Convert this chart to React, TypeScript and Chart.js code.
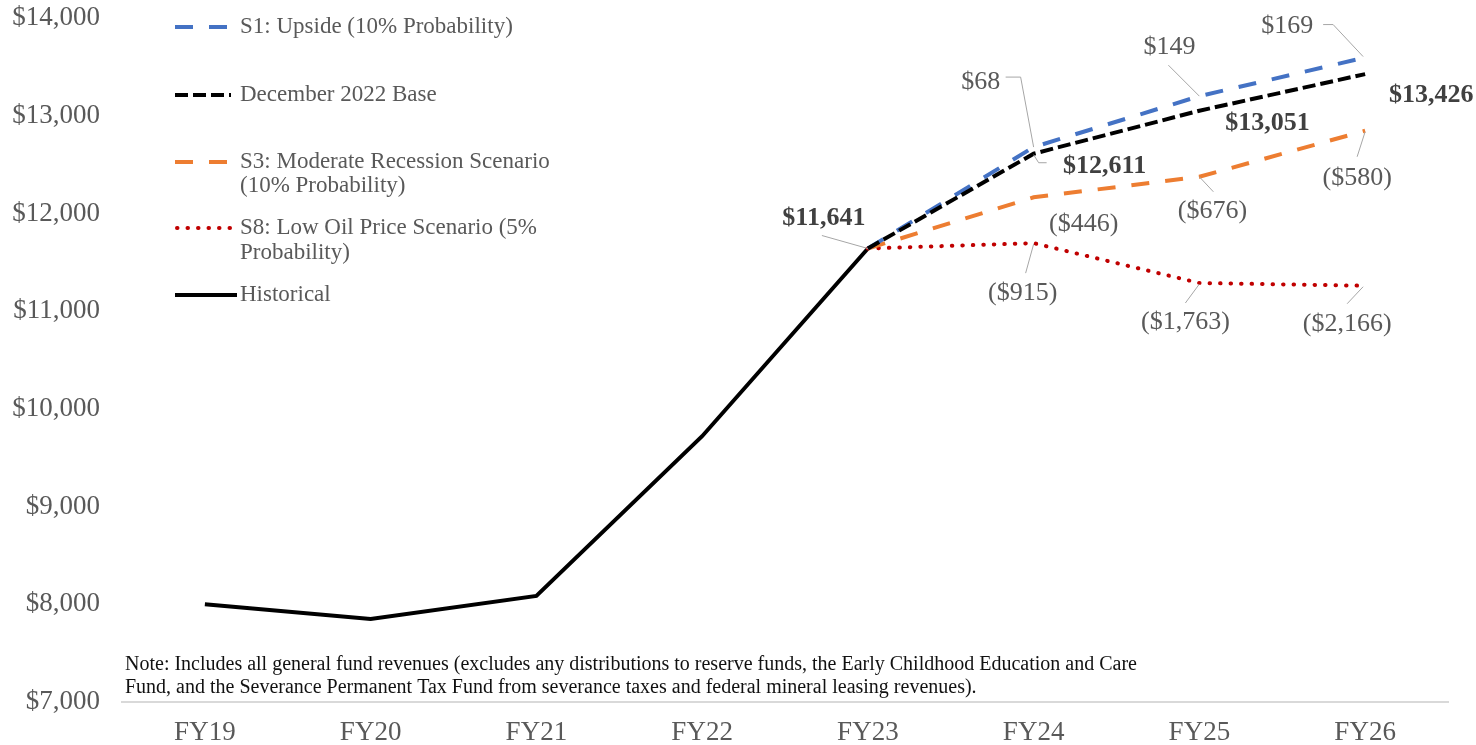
import React, { useEffect, useRef } from "react";
import { Chart, registerables } from "chart.js";

Chart.register(...registerables);

const FONT = "'Liberation Serif', 'Times New Roman', Times, serif";

// ---------- data ----------
const categories = ["FY19", "FY20", "FY21", "FY22", "FY23", "FY24", "FY25", "FY26"];
const historical = [8000, 7850, 8085, 9720, 11641, null, null, null];
const base = [null, null, null, null, 11641, 12611, 13051, 13426];
const upside = [null, null, null, null, 11641, 12679, 13200, 13595];
const recession = [null, null, null, null, 11641, 12165, 12375, 12846];
const lowOil = [null, null, null, null, 11641, 11696, 11288, 11260];

const yMin = 7000;
const yMax = 14000;
const yStep = 1000;

const baseLabels = ["$11,641", "$12,611", "$13,051", "$13,426"];
const upsideLabels = ["$68", "$149", "$169"];
const recessionLabels = ["($446)", "($676)", "($580)"];
const lowOilLabels = ["($915)", "($1,763)", "($2,166)"];

const seriesNames = [
  "S1: Upside (10% Probability)",
  "December 2022 Base",
  "S3: Moderate Recession Scenario|(10% Probability)",
  "S8: Low Oil Price Scenario (5%|Probability)",
  "Historical",
];

const noteLines = [
  "Note: Includes all general fund revenues (excludes any distributions to reserve funds, the Early Childhood Education and Care",
  "Fund, and the Severance Permanent Tax Fund from severance taxes and federal mineral leasing revenues).",
];

// ---------- styles ----------
const BLUE = "#4472C4";
const ORANGE = "#ED7D31";
const RED = "#C00000";
const BLACK = "#000000";
const GRAY_TEXT = "#595959";
const BOLD_TEXT = "#404040";
const LEADER = "#a6a6a6";

const dashUpside = [18, 16];
const dashBase = [13, 5];
const dashRecession = [18, 16];
const dashLowOil = [0.5, 10];

type Placement = {
  values: (number | null)[];
  labels: string[];
  index: number;
  labelIndex: number;
  dx: number;
  dy: number;
  bold: boolean;
  leader?: number[][];
};

const placements: Placement[] = [
  { values: base, labels: baseLabels, index: 4, labelIndex: 0, dx: -44, dy: -30, bold: true, leader: [[-46, -13], [0, 0]] },
  { values: base, labels: baseLabels, index: 5, labelIndex: 1, dx: 71, dy: 13, bold: true, leader: [[13, 9], [5, 9], [0, 1]] },
  { values: base, labels: baseLabels, index: 6, labelIndex: 2, dx: 68, dy: 13, bold: true },
  { values: base, labels: baseLabels, index: 7, labelIndex: 3, dx: 66, dy: 21, bold: true },
  { values: upside, labels: upsideLabels, index: 5, labelIndex: 0, dx: -53, dy: -65, bold: false, leader: [[-28, -70], [-13, -70], [0, 0]] },
  { values: upside, labels: upsideLabels, index: 6, labelIndex: 1, dx: -30, dy: -49, bold: false, leader: [[-31, -31], [0, 0]] },
  { values: upside, labels: upsideLabels, index: 7, labelIndex: 2, dx: -78, dy: -31, bold: false, leader: [[-42, -33], [-32, -33], [-2, -1]] },
  { values: recession, labels: recessionLabels, index: 5, labelIndex: 0, dx: 50, dy: 27, bold: false },
  { values: recession, labels: recessionLabels, index: 6, labelIndex: 1, dx: 13, dy: 34, bold: false, leader: [[0, 0], [14, 15]] },
  { values: recession, labels: recessionLabels, index: 7, labelIndex: 2, dx: -8, dy: 47, bold: false, leader: [[-8, 26], [0, 1]] },
  { values: lowOil, labels: lowOilLabels, index: 5, labelIndex: 0, dx: -11, dy: 50, bold: false, leader: [[-8, 30], [0, 1]] },
  { values: lowOil, labels: lowOilLabels, index: 6, labelIndex: 1, dx: -14, dy: 39, bold: false, leader: [[-14, 20], [0, 1]] },
  { values: lowOil, labels: lowOilLabels, index: 7, labelIndex: 2, dx: -18, dy: 38, bold: false, leader: [[-18, 18], [-2, 1]] },
];

const legendItems = [
  { color: BLUE, dash: dashUpside, cap: "butt", ys: [27], sample: [175, 231] },
  { color: BLACK, dash: dashBase, cap: "butt", ys: [95], sample: [175, 231] },
  { color: ORANGE, dash: dashRecession, cap: "butt", ys: [162, 186], sample: [175, 231] },
  { color: RED, dash: dashLowOil, cap: "round", ys: [228, 253], sample: [177, 231] },
  { color: BLACK, dash: [], cap: "butt", ys: [295], sample: [175, 237] },
];

const annotationPlugin = {
  id: "annos",
  afterDatasetsDraw(chart: any) {
    const { ctx, scales } = chart;
    const xs = scales.x;
    const ys = scales.y;
    ctx.save();
    placements.forEach((p) => {
      const v = p.values[p.index];
      if (v == null) return;
      const px = xs.getPixelForValue(p.index);
      const py = ys.getPixelForValue(v);
      if (p.leader) {
        ctx.beginPath();
        ctx.setLineDash([]);
        ctx.strokeStyle = LEADER;
        ctx.lineWidth = 1;
        p.leader.forEach((pt, i) => {
          if (i === 0) ctx.moveTo(px + pt[0], py + pt[1]);
          else ctx.lineTo(px + pt[0], py + pt[1]);
        });
        ctx.stroke();
      }
      ctx.font = `${p.bold ? "bold " : ""}26px ${FONT}`;
      ctx.fillStyle = p.bold ? BOLD_TEXT : GRAY_TEXT;
      ctx.textAlign = "center";
      ctx.textBaseline = "middle";
      ctx.fillText(p.labels[p.labelIndex], px + p.dx, py + p.dy);
    });
    ctx.restore();
  },
  afterDraw(chart: any) {
    const { ctx } = chart;
    ctx.save();
    // legend
    legendItems.forEach((it, i) => {
      ctx.beginPath();
      ctx.strokeStyle = it.color;
      ctx.lineWidth = 4;
      ctx.lineCap = it.cap;
      ctx.setLineDash(it.dash);
      ctx.moveTo(it.sample[0], it.ys[0]);
      ctx.lineTo(it.sample[1], it.ys[0]);
      ctx.stroke();
      ctx.setLineDash([]);
      ctx.lineCap = "butt";
      ctx.font = `23px ${FONT}`;
      ctx.fillStyle = GRAY_TEXT;
      ctx.textAlign = "left";
      ctx.textBaseline = "middle";
      seriesNames[i].split("|").forEach((line, j) => {
        ctx.fillText(line, 240, it.ys[j]);
      });
    });
    // note
    ctx.font = `20px ${FONT}`;
    ctx.fillStyle = "#111111";
    ctx.textAlign = "left";
    ctx.textBaseline = "middle";
    noteLines.forEach((line, j) => ctx.fillText(line, 125, 665 + j * 23));
    ctx.restore();
  },
};

const zeroPad = (s: any) => {
  s.paddingTop = 0;
  s.paddingBottom = 0;
  s.paddingLeft = 0;
  s.paddingRight = 0;
};

export default function App() {
  const ref = useRef<HTMLCanvasElement>(null);
  useEffect(() => {
    document.body.style.margin = "0";
    const canvas = ref.current;
    if (!canvas) return;
    const common = { pointRadius: 0, pointHoverRadius: 0, borderWidth: 4, tension: 0, spanGaps: false, fill: false };
    const chart = new Chart(canvas, {
      type: "line",
      data: {
        labels: categories,
        datasets: [
          { ...common, label: "Historical", data: historical, borderColor: BLACK, order: 5 },
          { ...common, label: "S8", data: lowOil, borderColor: RED, borderDash: dashLowOil, borderCapStyle: "round", order: 4 },
          { ...common, label: "S3", data: recession, borderColor: ORANGE, borderDash: dashRecession, order: 3 },
          { ...common, label: "S1", data: upside, borderColor: BLUE, borderDash: dashUpside, order: 2 },
          { ...common, label: "Base", data: base, borderColor: BLACK, borderDash: dashBase, order: 1 },
        ] as any,
      },
      options: {
        animation: false,
        responsive: true,
        maintainAspectRatio: false,
        layout: { padding: { top: 18, right: 28, bottom: 0, left: 0 } },
        plugins: { legend: { display: false }, tooltip: { enabled: false } },
        scales: {
          x: {
            offset: true,
            grid: { display: false, drawTicks: false },
            border: { display: true, color: "#d9d9d9", width: 2 },
            ticks: { color: GRAY_TEXT, font: { family: FONT, size: 27 }, padding: 15 },
            afterFit: (s: any) => { s.height = 43; zeroPad(s); },
          },
          y: {
            min: yMin,
            max: yMax,
            grid: { display: false, drawTicks: false },
            border: { display: false },
            ticks: {
              stepSize: yStep,
              color: GRAY_TEXT,
              font: { family: FONT, size: 27 },
              padding: 22,
              callback: (v: any) => "$" + Number(v).toLocaleString("en-US"),
            },
            afterFit: (s: any) => { s.width = 122; zeroPad(s); },
          },
        },
      },
      plugins: [annotationPlugin],
    });
    return () => chart.destroy();
  }, []);
  return (
    <div style={{ width: 1476, height: 745, position: "relative" }}>
      <canvas ref={ref} />
    </div>
  );
}
